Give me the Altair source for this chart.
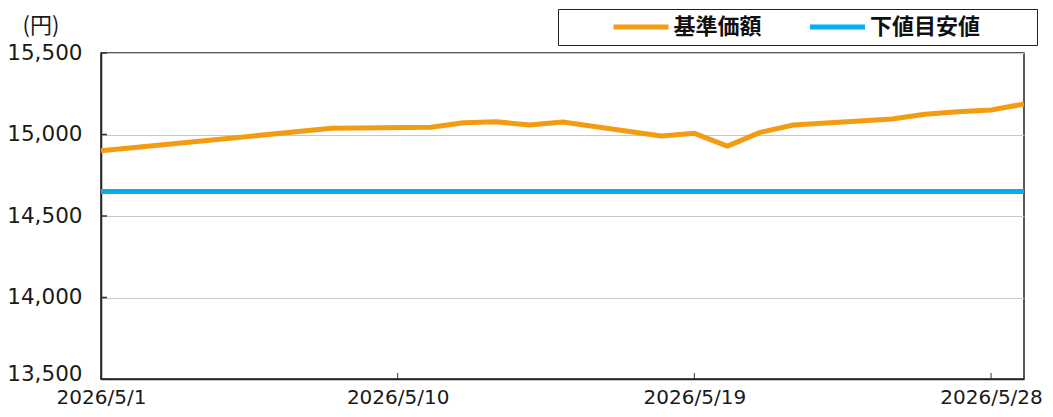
import altair as alt
import pandas as pd

# ---- data ----
DATES = ["2026-05-01", "2026-05-08", "2026-05-11", "2026-05-12", "2026-05-13",
         "2026-05-14", "2026-05-15", "2026-05-18", "2026-05-19", "2026-05-20",
         "2026-05-21", "2026-05-22", "2026-05-25", "2026-05-26", "2026-05-27",
         "2026-05-28", "2026-05-29"]
BASE_PRICE = [14900, 15038, 15044, 15072, 15078,
              15058, 15077, 14991, 15007, 14929,
              15013, 15058, 15095, 15124, 15140,
              15150, 15187]
LOWER_TARGET = [14650]
SERIES = ["基準価額", "下値目安値"]
COLORS = ["#F39C12", "#00B0F0"]
Y_TICKS = [13500, 14000, 14500, 15000, 15500]
X_TICKS = ["2026-05-01", "2026-05-10", "2026-05-19", "2026-05-28"]
X_DOMAIN = ["2026-05-01", "2026-05-29"]

W, H = 923, 326

line_df = pd.DataFrame({"date": DATES, "value": BASE_PRICE, "series": SERIES[0]})
lower_df = pd.DataFrame({"value": LOWER_TARGET, "series": [SERIES[1]]})
ytick_df = pd.DataFrame({"value": Y_TICKS})
xtick_df = pd.DataFrame({"date": X_TICKS})


def dt(s):
    y, m, d = map(int, s.split("-"))
    return alt.DateTime(year=y, month=m, date=d, utc=True)


x_scale = alt.Scale(type="utc", domain=[dt(s) for s in X_DOMAIN])
y_scale = alt.Scale(domain=[13500, 15500], nice=False, zero=False)
color_scale = alt.Scale(domain=SERIES, range=COLORS)

x_axis = alt.Axis(values=[dt(s) for s in X_TICKS],
                  labelExpr="utcFormat(datum.value, '%Y/%-m/%-d')",
                  title=None, grid=False, ticks=False, tickSize=0,
                  labelFont="DejaVu Sans", labelFontSize=20, labelColor="#1a1a1a",
                  labelPadding=8, domainColor="#222", domainWidth=1.5,
                  labelFlush=False, labelOverlap=False)

y_axis = alt.Axis(values=Y_TICKS, format=",d", title="(円)", titleAngle=0,
                  titleAlign="left", titleBaseline="top", titleX=-79, titleY=-38,
                  titleFont="Noto Sans CJK JP", titleFontSize=22, titleFontWeight="normal",
                  titleColor="#1a1a1a",
                  labelFont="DejaVu Sans", labelFontSize=21.5, labelColor="#1a1a1a",
                  labelPadding=19, ticks=False, tickSize=0,
                  labelOffset=alt.ConditionalAxisNumber(
                      condition={"test": f"datum.value == {Y_TICKS[0]}", "value": -5},
                      value=0),
                  grid=True, gridColor="#c8c8c8", gridWidth=1,
                  domainColor="#222", domainWidth=1.5)

legend = alt.Legend(title=" ", titleOrient="left", titlePadding=46, titleFontSize=21,
                    titleFont="Noto Sans CJK JP",
                    orient="none", legendX=457, legendY=-44, direction="horizontal",
                    symbolType="stroke", symbolSize=3025, symbolStrokeWidth=5,
                    clipHeight=22, labelOffset=2.5,
                    labelFont="Noto Sans CJK JP", labelFontSize=22, labelFontWeight="bold",
                    labelColor="#111",
                    labelExpr=("datum.label + (datum.label == '" + SERIES[1] + "'"
                               " ? '\u3000\u3000\u2005\u200b' : '\u3000\u3000\u200b')"),
                    labelLimit=400, columnPadding=1.5, padding=7,
                    strokeColor="#222", fillColor="white")

line = alt.Chart(line_df).mark_line(strokeWidth=5, strokeJoin="round").encode(
    x=alt.X("date:T", scale=x_scale, axis=x_axis),
    y=alt.Y("value:Q", scale=y_scale, axis=y_axis),
    color=alt.Color("series:N", scale=color_scale, legend=legend),
)

lower = alt.Chart(lower_df).mark_rule(strokeWidth=5).encode(
    y=alt.Y("value:Q", axis=y_axis),
    color=alt.Color("series:N"),
)

ytick = alt.Chart(ytick_df).mark_rule(color="#333", strokeWidth=1.5).encode(
    y=alt.Y("value:Q", axis=y_axis), x=alt.value(0), x2=alt.value(6)
)
xtick = alt.Chart(xtick_df).mark_rule(color="#333", strokeWidth=1).encode(
    x=alt.X("date:T", axis=x_axis), y=alt.value(H), y2=alt.value(H - 6)
)

chart = alt.layer(lower, line, ytick, xtick).properties(
    width=W, height=H,
    autosize=alt.AutoSizeParams(type="none"),
    padding={"left": 93, "top": 45, "right": 21, "bottom": 30},
).configure_view(stroke="#222", strokeWidth=1.5)

chart.save("out.html", embed_options={"renderer": "svg", "actions": False})
